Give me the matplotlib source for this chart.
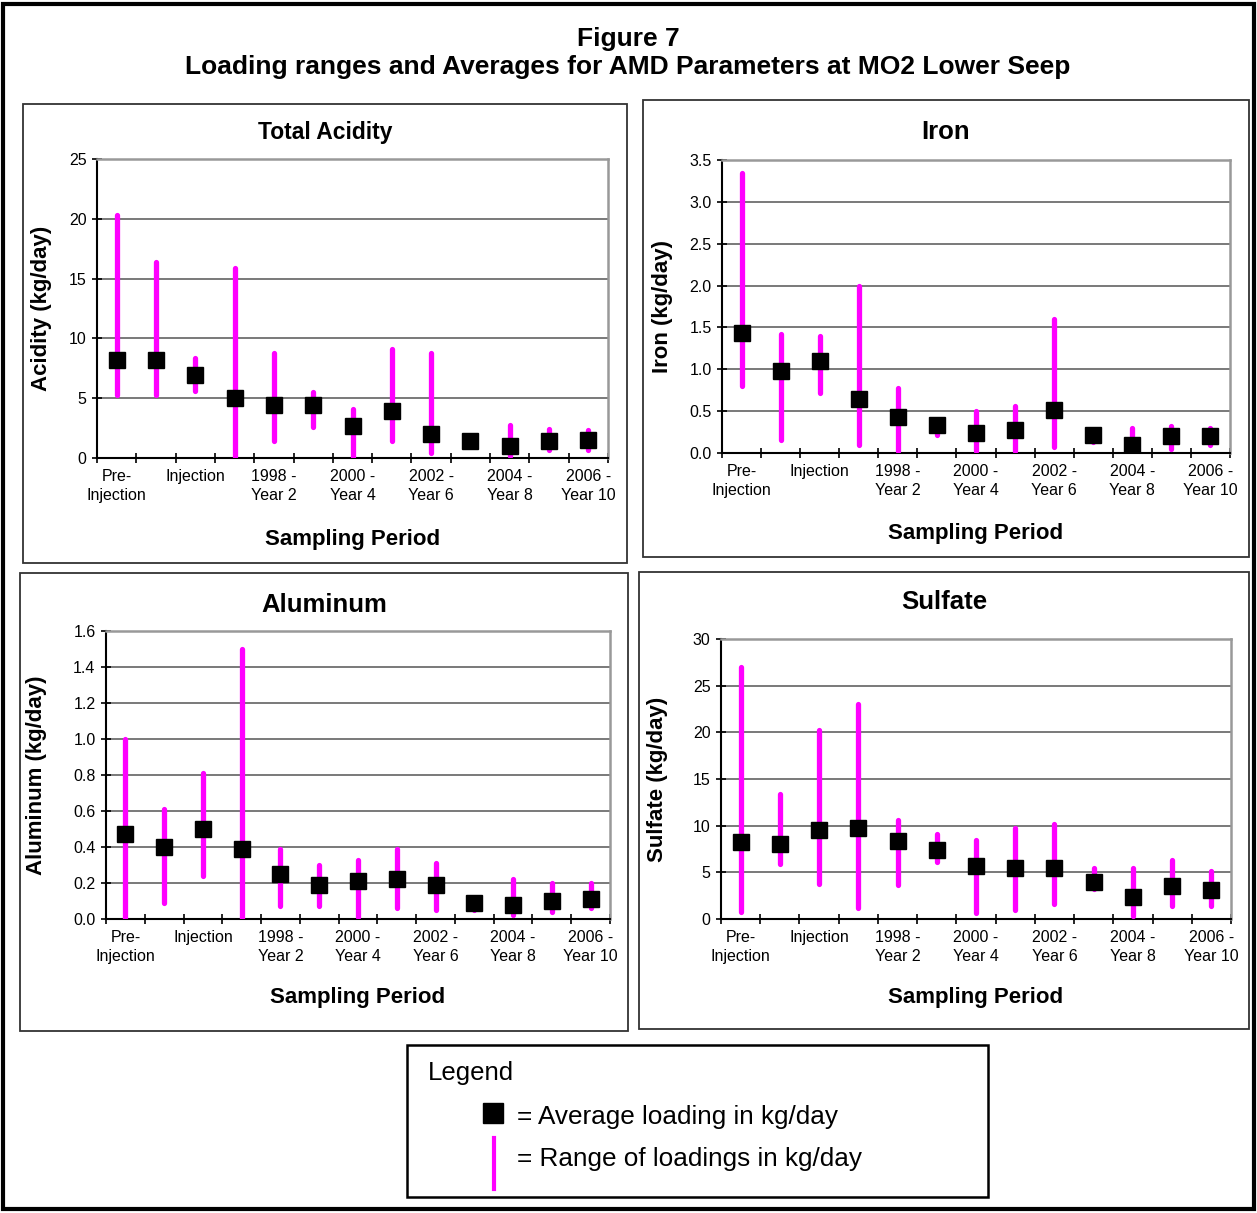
import numpy as np
import matplotlib
matplotlib.use('Agg')
import matplotlib.pyplot as plt
from matplotlib.patches import Rectangle
from matplotlib.lines import Line2D
from matplotlib.ticker import FormatStrFormatter

plt.rcParams['font.family'] = ['Liberation Sans', 'DejaVu Sans']

# Sampling periods (only every other one is labelled on the axis)
periods = ['Pre-\nInjection', 'Pre-\nInjection 2', 'Injection', '1997 -\nYear 1',
           '1998 -\nYear 2', '1999 -\nYear 3', '2000 -\nYear 4', '2001 -\nYear 5',
           '2002 -\nYear 6', '2003 -\nYear 7', '2004 -\nYear 8', '2005 -\nYear 9',
           '2006 -\nYear 10']

# Total acidity (kg/day)
acid_avg = [8.2, 8.2, 6.9, 5.0, 4.4, 4.4, 2.7, 3.9, 2.0, 1.4, 1.0, 1.4, 1.5]
acid_min = [5.3, 5.3, 5.6, 0.1, 1.4, 2.6, 0.1, 1.4, 0.4, 1.3, 0.2, 0.7, 0.7]
acid_max = [20.3, 16.4, 8.4, 15.9, 8.8, 5.5, 4.1, 9.1, 8.8, 1.6, 2.8, 2.4, 2.3]

# Iron (kg/day)
iron_avg = [1.43, 0.98, 1.10, 0.65, 0.43, 0.34, 0.24, 0.27, 0.51, 0.22, 0.10, 0.20, 0.20]
iron_min = [0.80, 0.15, 0.72, 0.10, 0.02, 0.22, 0.02, 0.02, 0.07, 0.13, 0.00, 0.05, 0.10]
iron_max = [3.35, 1.42, 1.40, 2.00, 0.78, 0.36, 0.50, 0.56, 1.60, 0.24, 0.30, 0.32, 0.30]

# Aluminum (kg/day)
alum_avg = [0.47, 0.40, 0.50, 0.39, 0.25, 0.19, 0.21, 0.22, 0.19, 0.09, 0.08, 0.10, 0.11]
alum_min = [0.00, 0.09, 0.24, 0.00, 0.07, 0.07, 0.01, 0.06, 0.05, 0.05, 0.02, 0.04, 0.06]
alum_max = [1.00, 0.61, 0.81, 1.50, 0.39, 0.30, 0.33, 0.39, 0.31, 0.10, 0.22, 0.20, 0.20]

# Sulfate (kg/day)
sulf_avg = [8.2, 8.0, 9.5, 9.7, 8.4, 7.4, 5.7, 5.5, 5.5, 4.0, 2.4, 3.5, 3.1]
sulf_min = [0.8, 5.9, 3.8, 1.2, 3.6, 6.1, 0.6, 1.0, 1.6, 3.2, 0.3, 1.4, 1.4]
sulf_max = [27.0, 13.4, 20.3, 23.0, 10.6, 9.1, 8.5, 9.8, 10.2, 5.5, 5.5, 6.3, 5.1]

W, H = 1257, 1213
fig = plt.figure(figsize=(W / 100, H / 100), dpi=100)


def fx(px):
    return px / W


def fy(py):
    return 1 - py / H


def box(x0, y0, x1, y1, lw, color='black'):
    fig.add_artist(Rectangle((fx(x0), fy(y1)), (x1 - x0) / W, (y1 - y0) / H,
                             transform=fig.transFigure, fill=False,
                             edgecolor=color, linewidth=lw))


MAGENTA = '#FF00FF'

# outer frame and figure title
box(3, 4, 1254, 1209, 3)
fig.text(fx(628), fy(39), 'Figure 7', ha='center', va='center',
         fontsize=19, fontweight='bold')
fig.text(fx(628), fy(67), 'Loading ranges and Averages for AMD Parameters at MO2 Lower Seep',
         ha='center', va='center', fontsize=19, fontweight='bold')

# (title, ylabel, avg, lo, hi, ymax, step, fmt, plot area px, panel box px,
#  title y, title size, ylabel x, xlabel y)
panels = [
    ('Total Acidity', 'Acidity (kg/day)', acid_avg, acid_min, acid_max, 25, 5, '%d',
     (97, 159, 608, 458), (23, 104, 627, 563), 133, 16.5, 42, 540),
    ('Iron', 'Iron (kg/day)', iron_avg, iron_min, iron_max, 3.5, 0.5, '%.1f',
     (722, 160, 1230, 453), (643, 100, 1249, 557), 132, 18.5, 662, 533),
    ('Aluminum', 'Aluminum (kg/day)', alum_avg, alum_min, alum_max, 1.6, 0.2, '%.1f',
     (106, 631, 610, 919), (20, 573, 628, 1031), 605, 18.5, 37, 998),
    ('Sulfate', 'Sulfate (kg/day)', sulf_avg, sulf_min, sulf_max, 30, 5, '%d',
     (721, 639, 1231, 919), (639, 572, 1249, 1029), 602, 18.5, 658, 998),
]

x = np.arange(len(periods))

for (title, ylab, avg, lo, hi, ymax, step, fmt, area, pbox,
     ty, tsize, ylx, xly) in panels:
    box(*pbox, 1.3, '#333333')
    l, t, r, b = area
    ax = fig.add_axes([fx(l), fy(b), (r - l) / W, (b - t) / H])

    rng = ax.vlines(x, lo, hi, colors=MAGENTA, linewidth=3.8, zorder=3)
    rng.set_capstyle('round')
    ax.plot(x, avg, linestyle='none', marker='s', markersize=11.5,
            color='black', zorder=4)

    ax.set_xlim(-0.5, len(periods) - 0.5)
    ax.set_ylim(0, ymax)
    ax.set_yticks(np.arange(0, ymax + step / 2, step))
    ax.yaxis.set_major_formatter(FormatStrFormatter(fmt))
    ax.grid(axis='y', color='#555555', linewidth=1.1)
    ax.set_axisbelow(True)

    ax.set_xticks(np.arange(-0.5, len(periods), 1))
    ax.set_xticklabels([])
    ax.set_xticks(x[::2], minor=True)
    ax.set_xticklabels(periods[::2], minor=True, fontsize=11.5, linespacing=1.3)
    ax.tick_params(axis='x', which='major', direction='inout', length=7, width=1.2)
    ax.tick_params(axis='x', which='minor', length=0, pad=8)
    ax.tick_params(axis='y', direction='inout', length=7, width=1.2,
                   labelsize=11.5, pad=4)

    for s in ('left', 'bottom'):
        ax.spines[s].set_color('black')
        ax.spines[s].set_linewidth(1.5)
    for s in ('top', 'right'):
        ax.spines[s].set_color('#999999')
        ax.spines[s].set_linewidth(1.8)

    fig.text(fx((pbox[0] + pbox[2]) / 2), fy(ty), title, ha='center', va='center',
             fontsize=tsize, fontweight='bold')
    fig.text(fx(ylx), fy((t + b) / 2), ylab, ha='center', va='center',
             rotation=90, fontsize=16, fontweight='bold')
    fig.text(fx((l + r) / 2), fy(xly), 'Sampling Period', ha='center', va='center',
             fontsize=16, fontweight='bold')

# legend box
box(407, 1045, 988, 1197, 1.8)
fig.text(fx(428), fy(1073), 'Legend', ha='left', va='center', fontsize=18.5)
fig.add_artist(Line2D([fx(493)], [fy(1113)], transform=fig.transFigure,
                      marker='s', markersize=15, color='black', linestyle='none'))
fig.add_artist(Line2D([fx(494), fx(494)], [fy(1138), fy(1189)],
                      transform=fig.transFigure, color=MAGENTA, linewidth=3))
fig.text(fx(517), fy(1117), '= Average loading in kg/day', ha='left', va='center',
         fontsize=18.8)
fig.text(fx(517), fy(1159), '= Range of loadings in kg/day', ha='left', va='center',
         fontsize=18.8)

fig.savefig('out.png', dpi=100)
